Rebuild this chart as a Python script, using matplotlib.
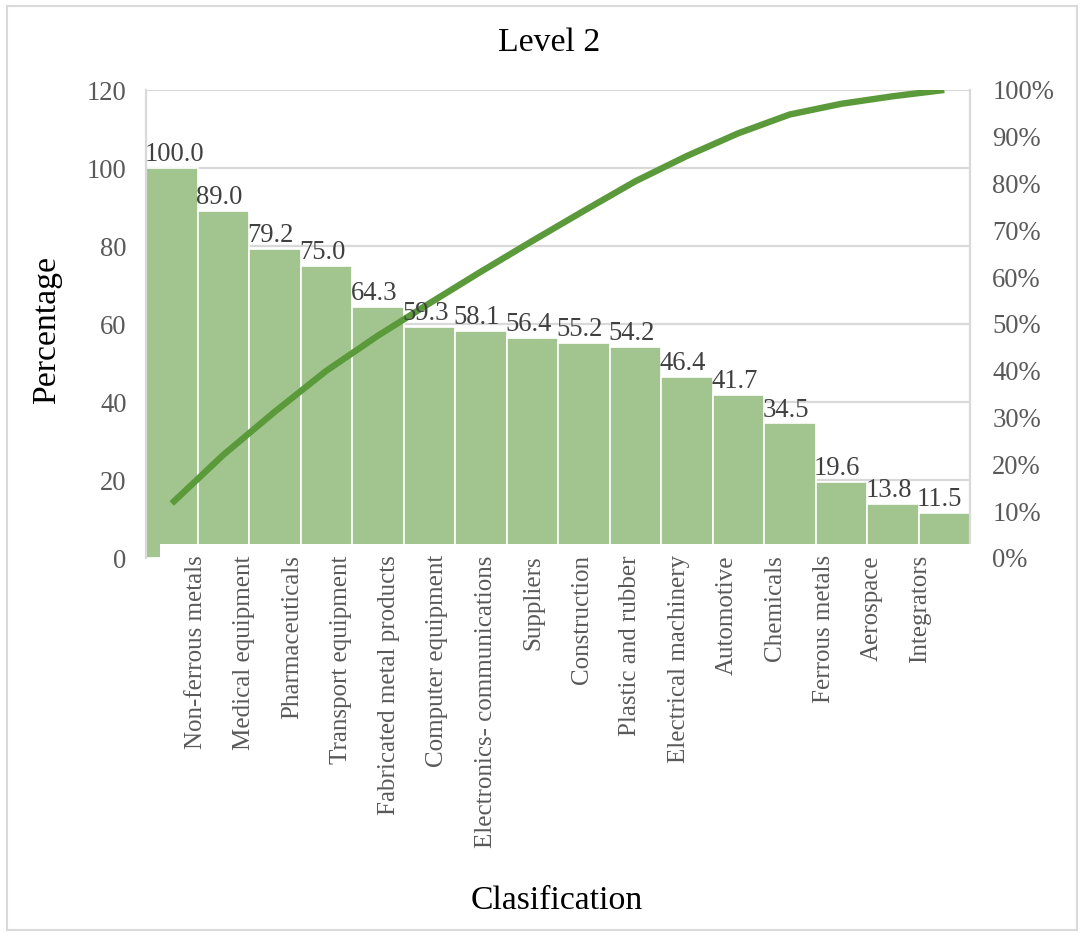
import numpy as np
import matplotlib
matplotlib.use("Agg")
import matplotlib.pyplot as plt
from matplotlib.patches import Rectangle

categories = ["Non-ferrous metals", "Medical equipment", "Pharmaceuticals",
              "Transport equipment", "Fabricated metal products", "Computer equipment",
              "Electronics- communications", "Suppliers", "Construction",
              "Plastic and rubber", "Electrical machinery", "Automotive",
              "Chemicals", "Ferrous metals", "Aerospace", "Integrators"]
values = [100.0, 89.0, 79.2, 75.0, 64.3, 59.3, 58.1, 56.4, 55.2, 54.2,
          46.4, 41.7, 34.5, 19.6, 13.8, 11.5]
left_ticks = [0, 20, 40, 60, 80, 100, 120]
right_ticks = [0.0, 0.1, 0.2, 0.3, 0.4, 0.5, 0.6, 0.7, 0.8, 0.9, 1.0]

cumulative = np.cumsum(values) / np.sum(values)

plt.rcParams['font.family'] = ['Liberation Serif', 'DejaVu Serif']

W, H = 1084, 936
fig = plt.figure(figsize=(W / 100, H / 100), dpi=100)
fig.patch.set_facecolor("white")

L, R, T, B = 146, 970, 90, 558
ax = fig.add_axes([L / W, 1 - B / H, (R - L) / W, (B - T) / H])

bar_color = "#A2C590"
line_color = "#5A9A3A"
grid_color = "#D9D9D9"
tick_color = "#595959"
label_color = "#404040"

x = np.arange(len(values))
ax.bar(x, values, width=1.0, color=bar_color, edgecolor="white", linewidth=1.2, zorder=2)
ax.set_xlim(-0.5, len(values) - 0.5)
ax.set_ylim(0, 120)
ax.set_yticks(left_ticks)
ax.yaxis.grid(True, color=grid_color, linewidth=1.6, zorder=0)
ax.set_axisbelow(True)

strip_frac = (B - 544) / (B - T)
for s in ["top", "bottom"]:
    ax.spines[s].set_visible(False)
for s in ["left", "right"]:
    ax.spines[s].set_color(grid_color)
    ax.spines[s].set_linewidth(1.6)
ax.spines["right"].set_bounds(strip_frac * 120, 120)

# white strip over the bottom of the bars (as in reference)
strip = Rectangle(((160 - L) / (R - L), 0), 1.01 - (160 - L) / (R - L), strip_frac,
                  transform=ax.transAxes, facecolor="white", edgecolor="none", zorder=4,
                  clip_on=False)
ax.add_patch(strip)

ax.tick_params(axis="y", length=0, pad=14, labelsize=19.2, labelcolor=tick_color)
n = len(values)
tick_pos = [(j + 0.5) * (n - 1) / n for j in range(n)]
ax.set_xticks(tick_pos)
ax.set_xticklabels(categories, rotation=90, fontsize=18, color=tick_color)
ax.tick_params(axis="x", length=0, pad=-2)
ax.xaxis.set_zorder(5)

ax.plot(x, cumulative * 120, color=line_color, linewidth=4.6, solid_capstyle="butt", zorder=5)

for xi, v in zip(x, values):
    ax.annotate(f"{v:.1f}", (xi - 0.5, v), xytext=(-1, 5), textcoords="offset points",
                ha="left", va="baseline", fontsize=19.2, color=label_color, zorder=6)

ax2 = ax.twinx()
ax2.set_ylim(0, 1)
ax2.set_yticks(right_ticks)
ax2.set_yticklabels([f"{int(round(t * 100))}%" for t in right_ticks])
ax2.tick_params(axis="y", length=0, pad=16, labelsize=19.2, labelcolor=tick_color)
for s in ax2.spines.values():
    s.set_visible(False)
ax.set_zorder(ax2.get_zorder() + 1)
ax.patch.set_visible(False)

fig.text(549 / W, 1 - 43 / H, "Level 2", ha="center", va="center", fontsize=24.3, color="black")
fig.text(557 / W, 1 - 901 / H, "Clasification", ha="center", va="center", fontsize=24.3, color="black")
fig.text(47 / W, 1 - 330 / H, "Percentage", ha="center", va="center", rotation=90,
         fontsize=24.3, color="black")

fig.patches.append(Rectangle((7 / W, 6 / H), (1077 - 7) / W, (930 - 6) / H,
                             transform=fig.transFigure, facecolor="none",
                             edgecolor=grid_color, linewidth=1.5))

fig.savefig("out.png", dpi=100, facecolor="white")
